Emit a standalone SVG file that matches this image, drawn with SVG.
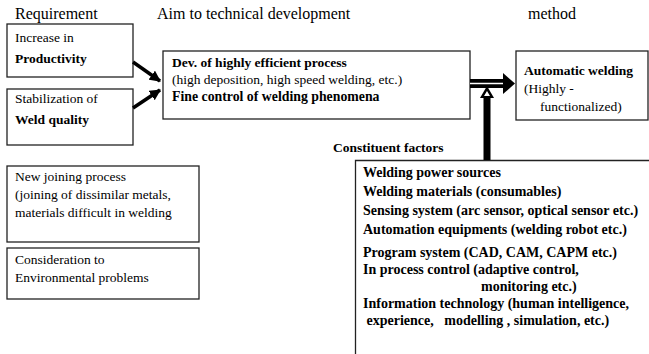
<svg xmlns="http://www.w3.org/2000/svg" width="649" height="354" viewBox="0 0 649 354" font-family="'Liberation Serif', 'Times New Roman', 'DejaVu Serif', serif">
<style>
text{font-family:"Liberation Serif","Times New Roman","DejaVu Serif",serif;font-size:13.5px;fill:#000}
.h{font-size:16px}
.f{font-size:14px;font-weight:bold}
.b{font-weight:bold}
.pre{white-space:pre}
.box{fill:#fff;stroke:#222;stroke-width:1.3}
</style>
<defs>
<marker id="ah" viewBox="0 0 10 10" refX="9" refY="5" markerWidth="3.2" markerHeight="3.2" orient="auto" markerUnits="strokeWidth">
<path d="M0,0 L10,5 L0,10 Z" fill="#000"/>
</marker>
</defs>
<rect width="649" height="354" fill="#fff"/>
<g id="headers">
<text x="15" y="19" class="h">Requirement</text>
<text x="157" y="19" class="h">Aim to technical development</text>
<text x="528" y="19" class="h">method</text>
</g>
<g id="req-productivity">
<rect class="box" x="7" y="24" width="126" height="53"/>
<text x="15" y="42">Increase in</text>
<text x="15" y="63" class="b">Productivity</text>
</g>
<g id="req-quality">
<rect class="box" x="7" y="89" width="126" height="56"/>
<text x="15" y="103">Stabilization of</text>
<text x="15" y="124" class="b">Weld quality</text>
</g>
<g id="req-joining">
<rect class="box" x="7" y="166" width="192" height="76"/>
<text x="15" y="181">New joining process</text>
<text x="15" y="199">(joining of dissimilar metals,</text>
<text x="15" y="217">materials difficult in welding</text>
</g>
<g id="req-environment">
<rect class="box" x="7" y="248" width="192" height="51"/>
<text x="15" y="264">Consideration to</text>
<text x="15" y="282">Environmental problems</text>
</g>
<g id="aim">
<rect class="box" x="163" y="51" width="307" height="68"/>
<text x="172" y="67" class="b">Dev. of highly efficient process</text>
<text x="172" y="84">(high deposition, high speed welding, etc.)</text>
<text x="172" y="101" class="b" style="font-size:13.8px">Fine control of welding phenomena</text>
</g>
<g id="method">
<rect class="box" x="516" y="51" width="132" height="69"/>
<text x="524" y="75" class="b">Automatic welding</text>
<text x="524" y="93">(Highly -</text>
<text x="540" y="111">functionalized)</text>
</g>
<g id="factors">
<text x="333" y="152" class="b">Constituent factors</text>
<path d="M649,160.5 H355.5 V354" fill="none" stroke="#222" stroke-width="1.3"/>
<text x="363" y="177" class="f">Welding power sources</text>
<text x="363" y="196" class="f">Welding materials (consumables)</text>
<text x="363" y="215" class="f">Sensing system (arc sensor, optical sensor etc.)</text>
<text x="363" y="234" class="f">Automation equipments (welding robot etc.)</text>
<text x="363" y="257" class="f">Program system (CAD, CAM, CAPM etc.)</text>
<text x="363" y="274" class="f">In process control (adaptive control,</text>
<text x="481" y="291" class="f">monitoring etc.)</text>
<text x="363" y="308" class="f">Information technology (human intelligence,</text>
<text x="363" y="325" class="f pre" xml:space="preserve"> experience,   modelling , simulation, etc.)</text>
</g>
<g id="connectors">
<line x1="133" y1="62" x2="160" y2="81" stroke="#000" stroke-width="3.5" marker-end="url(#ah)"/>
<line x1="133" y1="108" x2="160" y2="90" stroke="#000" stroke-width="3.5" marker-end="url(#ah)"/>
<rect x="470" y="79" width="34" height="9" fill="#000"/>
<line x1="470" y1="83.5" x2="503" y2="83.5" stroke="#fff" stroke-width="1.5"/>
<path d="M503,73 L515,83.5 L503,94 Z" fill="#000"/>
<rect x="483.5" y="96" width="7" height="64" fill="#000"/>
<path d="M487,86 L494,98 L480,98 Z" fill="#000"/>
<path d="M487,91 L490,96 L484,96 Z" fill="#fff"/>
</g>
</svg>
